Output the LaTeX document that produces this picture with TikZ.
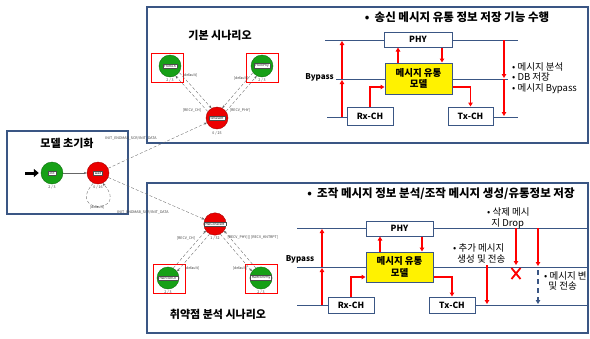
\documentclass[tikz,border=0pt]{standalone}
\usepackage{fontspec}
\setmainfont{Noto Sans CJK KR}
\usepackage{xcolor}
\usetikzlibrary{arrows.meta,positioning,calc}

\definecolor{frameblue}{RGB}{58,86,132}
\definecolor{stategreen}{RGB}{22,160,22}
\definecolor{statered}{RGB}{236,0,0}
\definecolor{hotred}{RGB}{255,0,0}

\newcommand{\statetag}[1]{{\setlength{\fboxsep}{0.7pt}\setlength{\fboxrule}{0.3pt}%
  \fcolorbox{black!70}{white}{\fontsize{3.2}{3.5}\selectfont\,#1\,}}}

\tikzset{
  frame/.style={draw=frameblue, line width=1.3pt},
  heading/.style={font=\bfseries\fontsize{11}{12}\selectfont},
  title/.style={font=\bfseries\fontsize{11.5}{13}\selectfont},
  state/.style={circle, minimum size=22pt, inner sep=0pt, fill=#1, draw=#1!70!black, line width=0.4pt},
  count/.style={font=\fontsize{3.6}{4}\selectfont, text=black!75},
  guard/.style={font=\fontsize{3.6}{4}\selectfont, text=black!75},
  edge/.style={densely dashed, draw=black!60, line width=0.35pt, -{Stealth[length=3pt,width=2.4pt]}},
  solidedge/.style={draw=black!60, line width=0.4pt, -{Stealth[length=3pt,width=2.4pt]}},
  redbox/.style={draw=hotred, line width=1pt, minimum width=32pt, minimum height=29pt},
  unit/.style={draw=frameblue, line width=1pt, fill=white, inner sep=0pt, font=\bfseries\fontsize{8.5}{9}\selectfont},
  model/.style={draw=frameblue, line width=1pt, fill=yellow, inner sep=0pt, align=center, font=\bfseries\fontsize{9.5}{11.5}\selectfont},
  bus/.style={draw=frameblue, line width=1pt},
  flow/.style={draw=hotred, line width=1.2pt, -{Triangle[length=4pt,width=4.5pt]}},
  note/.style={font=\fontsize{9.5}{10.8}\selectfont, align=left, anchor=west, inner sep=0pt},
}

\begin{document}
\begin{tikzpicture}[x=1pt, y=-1pt]
\useasboundingbox (0,0) rectangle (590,338);

% frames
\draw[frame] (7,131) rectangle (128,214);
\draw[frame] (147,7) rectangle (588,143);
\draw[frame] (147,183) rectangle (588,333);

\node[heading] (inithead) at (67,143) {모델 초기화};
\node[heading] (basichead) at (220,35) {기본 시나리오};
\node[heading] (vulnhead) at (218,314) {취약점 분석 시나리오};
\node[title] (toptitle) at (457,17) {•\ \ 송신 메시지 유통 정보 저장 기능 수행};
\node[title] (bottitle) at (441,194) {•\ \ 조작 메시지 정보 분석/조작 메시지 생성/유통정보 저장};

% model init
\coordinate (start) at (25,173);
\node[state=stategreen] (init) at (52,173) {\statetag{init}};
\node[state=statered] (wait) at (98,173) {\statetag{wait}};
\node[count, yshift=-14pt] (initcnt) at (init) {2 / 3};
\node[count, yshift=-14pt] (waitcnt) at (wait) {0 / 16};

\draw[line width=3pt, -{Triangle[length=5pt,width=8pt]}] (start) -- ([xshift=-2pt]init.west);
\draw[solidedge] (init) -- (wait);
\draw[edge] (wait.245) .. controls (66,214) and (130,214) .. (wait.295);
\node[guard] (loopguard) at (97,207) {[default]};
\node[guard] (upguard) at (131,138) {INIT\_ENDMAB\_SCR/INIT\_DATA};
\node[guard] (downguard) at (143,212) {INIT\_ENDMAB\_SCR/INIT\_DATA};

% basic scenario
\node[redbox] (fromchbox) at (167,67.5) {};
\node[redbox] (fromphybox) at (262.5,67.5) {};
\node[state=stategreen] (fromch) at (170,66) {\statetag{FromCh}};
\node[state=stategreen] (fromphy) at (262,66) {\statetag{FromPhy}};
\node[state=statered] (sdr) at (217,118) {\statetag{timeSDR}};
\node[count, yshift=-14pt] (fromchcnt) at (fromch) {2 / 3};
\node[count, yshift=-14pt] (fromphycnt) at (fromphy) {2 / 3};
\node[count, yshift=-15pt] (sdrcnt) at (sdr) {0 / 25};

\draw[edge, shorten <=11pt, shorten >=11pt] ($(fromch)!2.5pt!90:(sdr)$) -- ($(sdr)!2.5pt!-90:(fromch)$);
\draw[edge, shorten <=11pt, shorten >=11pt] ($(sdr)!2.5pt!90:(fromch)$) -- ($(fromch)!2.5pt!-90:(sdr)$);
\draw[edge, shorten <=11pt, shorten >=11pt] ($(fromphy)!2.5pt!-90:(sdr)$) -- ($(sdr)!2.5pt!90:(fromphy)$);
\draw[edge, shorten <=11pt, shorten >=11pt] ($(sdr)!2.5pt!-90:(fromphy)$) -- ($(fromphy)!2.5pt!90:(sdr)$);
\node[guard] (chdefault) at (190,75) {[default]};
\node[guard] (recvch) at (192,110) {[RECV\_CH]};
\node[guard] (phydefault) at (241,78) {[default]};
\node[guard] (recvphy) at (240,110) {[RECV\_PHY]};

\draw[edge] (wait) -- (sdr);

% vulnerability scenario
\node[redbox] (hfchbox) at (169,279) {};
\node[redbox] (hfphybox) at (261,279) {};
\node[state=statered] (hco) at (215,224) {\statetag{HalCoherent}};
\node[state=stategreen] (hfch) at (168,278) {\statetag{HalFromCh}};
\node[state=stategreen] (hfphy) at (261,278) {\statetag{HalFromPhy}};
\node[count, yshift=-14pt] (hcocnt) at (hco) {1 / 32};
\node[count, yshift=-14pt] (hfchcnt) at (hfch) {2 / 3};
\node[count, yshift=-14pt] (hfphycnt) at (hfphy) {2 / 3};

\draw[edge, shorten <=11pt, shorten >=11pt] ($(hco)!2.5pt!90:(hfch)$) -- ($(hfch)!2.5pt!-90:(hco)$);
\draw[edge, shorten <=11pt, shorten >=11pt] ($(hfch)!2.5pt!90:(hco)$) -- ($(hco)!2.5pt!-90:(hfch)$);
\draw[edge, shorten <=11pt, shorten >=11pt] ($(hco)!2.5pt!-90:(hfphy)$) -- ($(hfphy)!2.5pt!90:(hco)$);
\draw[edge, shorten <=11pt, shorten >=11pt] ($(hfphy)!2.5pt!-90:(hco)$) -- ($(hco)!2.5pt!90:(hfphy)$);
\node[guard] (hrecvch) at (186,238) {[RECV\_CH]};
\node[guard] (hchdefault) at (192,268) {[default]};
\node[guard] (hphydefault) at (240,268) {[default]};
\node[guard, anchor=west] (hrecvphy) at (224,237) {[RECV\_PHY] || [RECV\_KNTRPT]};

\draw[edge] (wait) -- (hco);

% forwarding model, top
\node[unit, minimum width=68pt, minimum height=15pt] (phy1) at (418,39.5) {PHY};
\node[model, minimum width=67pt, minimum height=31pt] (model1) at (418.5,78.5) {메시지 유통\\모델};
\node[unit, minimum width=46pt, minimum height=18pt] (rx1) at (370,116) {Rx-CH};
\node[unit, minimum width=45pt, minimum height=18pt] (tx1) at (470.5,116) {Tx-CH};

\coordinate (t1l) at (325,40);  \coordinate (t1r) at (518,40);
\coordinate (m1l) at (336,79);  \coordinate (m1r) at (508,79);
\coordinate (b1l) at (327,117); \coordinate (b1r) at (518,117);
\draw[bus] (t1l) -- (phy1.west |- t1l);
\draw[bus] (phy1.east |- t1r) -- (t1r);
\draw[bus] (m1l) -- (model1.west |- m1l);
\draw[bus] (model1.east |- m1r) -- (m1r);
\draw[bus] (b1l) -- (rx1.west |- b1l);
\draw[bus] (tx1.east |- b1r) -- (b1r);
\node[font=\bfseries\fontsize{8}{9}\selectfont, anchor=east, inner sep=1pt] (bypass1) at (335,77) {Bypass};

\draw[flow] (342,117) -- (342,80);
\draw[flow] (342,79) -- (342,41);
\draw[flow] (model1.north -| 398,0) -- (phy1.south -| 398,0);
\draw[flow] (phy1.south -| 442,0) -- (model1.north -| 442,0);
\draw[flow] (rx1.north) |- (model1.west |- 0,87);
\draw[flow] (model1.east |- 0,87) -| (tx1.north);
\draw[flow] (504,40) -- (504,78);
\draw[flow] (504,79) -- (504,116);
\node[note] (notes1) at (512,78) {• 메시지 분석\\• DB 저장\\• 메시지 Bypass};

% forwarding model, bottom
\node[unit, minimum width=67pt, minimum height=15pt] (phy2) at (399.5,228.5) {PHY};
\node[model, minimum width=67pt, minimum height=30pt] (model2) at (399.5,267) {메시지 유통\\모델};
\node[unit, minimum width=46pt, minimum height=16pt] (rx2) at (351,305) {Rx-CH};
\node[unit, minimum width=46pt, minimum height=16pt] (tx2) at (452,305) {Tx-CH};

\coordinate (t2l) at (297,228); \coordinate (t2r) at (588,228);
\coordinate (m2l) at (297,267); \coordinate (m2r) at (588,267);
\coordinate (b2l) at (297,305); \coordinate (b2r) at (588,305);
\draw[bus] (t2l) -- (phy2.west |- t2l);
\draw[bus] (phy2.east |- t2r) -- (t2r);
\draw[bus] (m2l) -- (model2.west |- m2l);
\draw[bus] (model2.east |- m2r) -- (m2r);
\draw[bus] (b2l) -- (rx2.west |- b2l);
\draw[bus] (tx2.east |- b2r) -- (b2r);
\node[font=\bfseries\fontsize{8}{9}\selectfont, inner sep=1pt] (bypass2) at (300,259) {Bypass};

\draw[flow] (322,305) -- (322,268);
\draw[flow] (322,267) -- (322,229);
\draw[flow] (model2.north -| 380,0) -- (phy2.south -| 380,0);
\draw[flow] (phy2.south -| 422,0) -- (model2.north -| 422,0);
\draw[flow] (rx2.north) |- (model2.west |- 0,277);
\draw[flow] (model2.east |- 0,277) -| (tx2.north);

\draw[flow] (487,265) -- (487,304);
\node[note] (addnote) at (453,253.5) {• 추가 메시지\\\ \ 생성 및 전송};

\draw[flow] (516,228) -- (516,265);
\draw[hotred, line width=1.8pt] (511.5,268) -- (520.5,279) (520.5,268) -- (511.5,279);
\node[note] (dropnote) at (487,218) {• 삭제 메시\\\ \ 지 Drop};

\draw[flow] (538,228) -- (538,266);
\draw[frameblue, line width=1.2pt, dashed, dash pattern=on 5pt off 4pt, -{Triangle[length=4pt,width=4.5pt]}] (538,270) -- (538,304);
\node[note] (modnote) at (544,281) {• 메시지 변\\\ \ 및 전송};

\end{tikzpicture}
\end{document}
